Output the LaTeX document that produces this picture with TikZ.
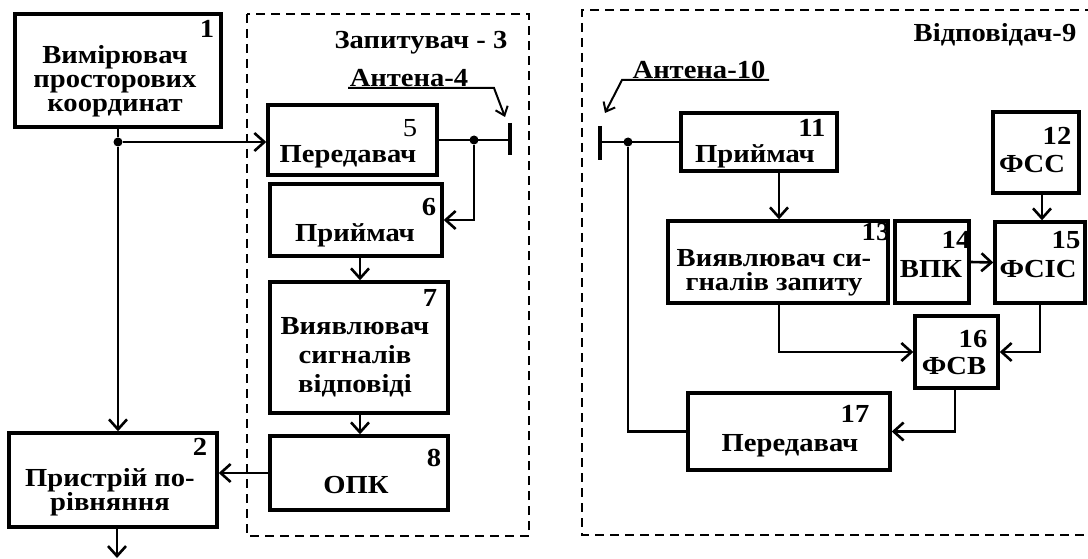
\documentclass[tikz,border=0pt]{standalone}
\usepackage{fontspec}
\setmainfont{Liberation Serif}[FakeStretch=1.1]
\usetikzlibrary{arrows.meta,calc}
\begin{document}
\begin{tikzpicture}[x=1pt,y=-1pt,
  blk/.style={draw, line width=3.4pt, inner sep=0pt},
  txt/.style={font=\fontsize{26}{24}\selectfont\bfseries, inner sep=0pt, align=center},
  txtw/.style={font=\fontsize{26}{29}\selectfont\bfseries, inner sep=0pt, align=center},
  numr/.style={font=\fontsize{26}{24}\selectfont, inner sep=0pt},
  conn/.style={line width=2.6pt},
  arr/.style={conn, -{Straight Barb[length=10pt,width=18pt]}},
  lead/.style={line width=2pt, -{Straight Barb[length=8pt,width=13pt]}},
  dbox/.style={line width=2.4pt, dash pattern=on 9pt off 6pt},
  ant/.style={line width=4.5pt},
  dot/.style={circle, fill, inner sep=0pt, minimum size=9pt}]
\useasboundingbox (0,0) rectangle (1088,559);

% dashed groups
\draw[dbox] (247,14) rectangle (529,536);
\draw[dbox] (1094,10) -- (582,10) -- (582,535) -- (1094,535);

% left blocks
\node[blk, minimum width=206pt, minimum height=113pt] (b1) at (118,70.5) {};
\node[blk, minimum width=208pt, minimum height=94pt] (b2) at (113,480) {};
\node[blk, minimum width=169pt, minimum height=70pt] (b5) at (352.5,140) {};
\node[blk, minimum width=172pt, minimum height=72pt] (b6) at (356,220) {};
\node[blk, minimum width=178pt, minimum height=131pt] (b7) at (359,347.5) {};
\node[blk, minimum width=178pt, minimum height=74pt] (b8) at (359,473) {};

% right blocks
\node[blk, minimum width=156pt, minimum height=58pt] (b11) at (759,142) {};
\node[blk, minimum width=86pt, minimum height=81pt] (b12) at (1036,152.5) {};
\node[blk, minimum width=220pt, minimum height=82pt] (b13) at (778,262) {};
\node[blk, minimum width=74pt, minimum height=82pt] (b14) at (932,262) {};
\node[blk, minimum width=90pt, minimum height=81pt] (b15) at (1040,262.5) {};
\node[blk, minimum width=83pt, minimum height=72pt] (b16) at (956.5,352) {};
\node[blk, minimum width=202pt, minimum height=77pt] (b17) at (789,431.5) {};

% texts left
\node[txt] (n1) at (207,29) {1};
\node[txt] (t1) at (115,81) {Вимірювач\\просторових\\координат};
\node[txt] (n2) at (200,447) {2};
\node[txt] (t2) at (110,492) {Пристрій по-\\рівняння};
\node[txt] (g3) at (421,43) {Запитувач - 3};
\node[txt] (l4) at (409,78) {Антена-4};
\node[numr] (n5) at (410,128) {5};
\node[txt] (t5) at (348,157) {Передавач};
\node[txt] (n6) at (429,207) {6};
\node[txt] (t6) at (355,235) {Приймач};
\node[txt] (n7) at (430,298) {7};
\node[txtw] (t7) at (355,357) {Виявлювач\\сигналів\\відповіді};
\node[txt] (n8) at (434,458) {8};
\node[txt] (t8) at (356,485) {ОПК};

% texts right
\node[txt] (g9) at (995,35) {Відповідач-9};
\node[txt] (l10) at (699,70) {Антена-10};
\node[txt] (n11) at (812,128) {11};
\node[txt] (t11) at (755,156) {Приймач};
\node[txt] (n12) at (1057,136) {12};
\node[txt] (t12) at (1032,164) {ФСС};
\node[txt] (n13) at (876,232) {13};
\node[txt] (t13) at (774,273) {Виявлювач си-\\гналів запиту};
\node[txt] (n14) at (956,240) {14};
\node[txt] (t14) at (931,269) {ВПК};
\node[txt] (n15) at (1066,240) {15};
\node[txt] (t15) at (1038,269) {ФСІС};
\node[txt] (n16) at (973,339) {16};
\node[txt] (t16) at (954,366) {ФСВ};
\node[txt] (n17) at (855,414) {17};
\node[txt] (t17) at (790,446) {Передавач};

% antennas
\coordinate (a4t) at (510,123);
\coordinate (a4b) at (510,155);
\coordinate (a4) at (510,140);
\draw[ant] (a4t) -- (a4b);
\coordinate (a10t) at (600,126);
\coordinate (a10b) at (600,160);
\coordinate (a10) at (600,142);
\draw[ant] (a10t) -- (a10b);

% antenna leaders (underlines)
\coordinate (u4) at (348,88);
\coordinate (u4e) at (494,88);
\coordinate (a4tip) at (505,117);
\draw[lead] (u4) -- (u4e) -- (a4tip);
\coordinate (u10) at (622,80);
\coordinate (u10e) at (769,80);
\coordinate (a10tip) at (605,113);
\draw[lead] (u10e) -- (u10) -- (a10tip);

% junctions
\node[dot] (j1) at (118,142) {};
\node[dot] (j2) at (474,140) {};
\node[dot] (j3) at (628,142) {};

% left connectors
\draw[conn] (b1.south) -- (j1);
\draw[arr] (j1) -- (j1 -| b5.west);
\draw[arr] (j1) -- (j1 |- b2.north);
\draw[conn] (b5.east) -- (a4);
\draw[arr] (j2) |- (b6.east);
\draw[arr] ([xshift=4pt]b6.south) -- ([xshift=4pt]b6.south |- b7.north);
\draw[arr] ([xshift=1pt]b7.south) -- ([xshift=1pt]b7.south |- b8.north);
\draw[arr] (b8.west) -- (b8.west -| b2.east);
\coordinate (out2) at (117,558);
\draw[arr] ([xshift=4pt]b2.south) -- (out2);

% right connectors
\draw[conn] (a10) -- (b11.west);
\draw[arr] ([xshift=20pt]b11.south) -- ([xshift=20pt]b11.south |- b13.north);
\draw[arr] ([xshift=6pt]b12.south) -- ([xshift=6pt]b12.south |- b15.north);
\draw[arr] (b14.east) -- (b15.west);
\draw[arr] ([xshift=1pt]b13.south) |- (b16.west);
\draw[arr] (b15.south) |- (b16.east);
\draw[arr] ([xshift=-1.5pt]b16.south) |- (b17.east);
\draw[conn] (b17.west) -| (j3);
\end{tikzpicture}
\end{document}
